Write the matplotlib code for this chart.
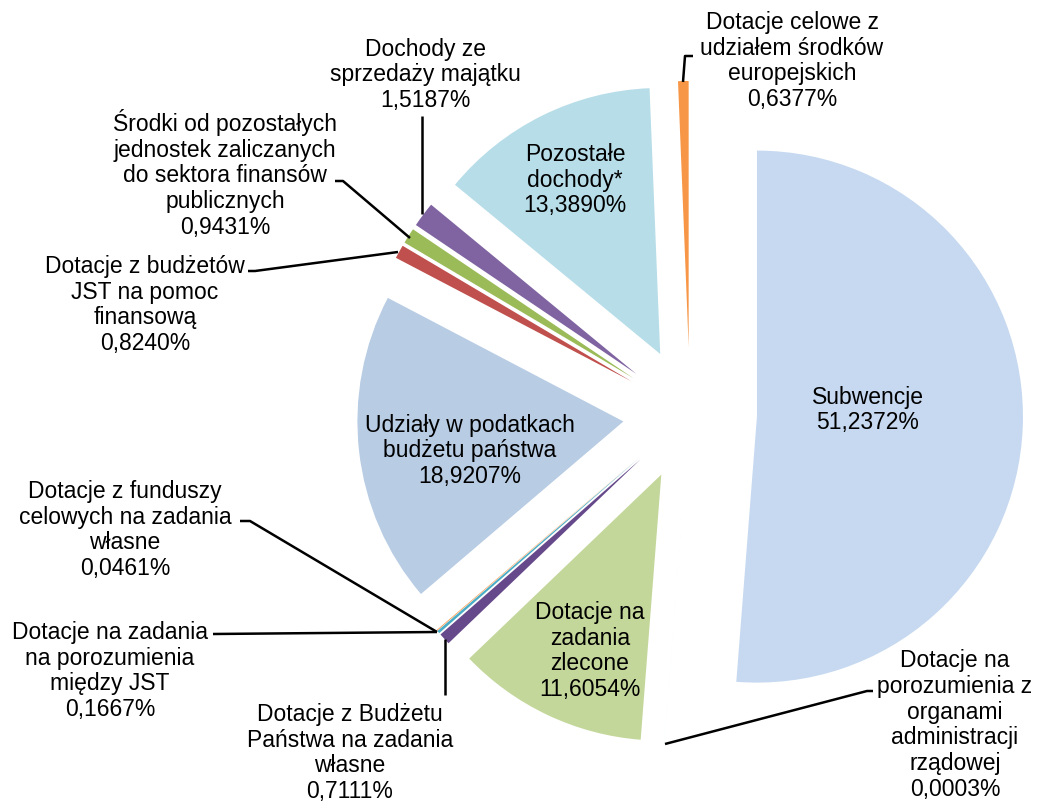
import matplotlib.pyplot as plt

# Struktura dochodów - udziały procentowe
labels = [
    "Subwencje",
    "Dotacje na\nporozumienia z\norganami\nadministracji\nrządowej",
    "Dotacje na\nzadania\nzlecone",
    "Dotacje z Budżetu\nPaństwa na zadania\nwłasne",
    "Dotacje na zadania\nna porozumienia\nmiędzy JST",
    "Dotacje z funduszy\ncelowych na zadania\nwłasne",
    "Udziały w podatkach\nbudżetu państwa",
    "Dotacje z budżetów\nJST na pomoc\nfinansową",
    "Środki od pozostałych\njednostek zaliczanych\ndo sektora finansów\npublicznych",
    "Dochody ze\nsprzedaży majątku",
    "Pozostałe\ndochody*",
    "Dotacje celowe z\nudziałem środków\neuropejskich",
]
values = [51.2372, 0.0003, 11.6054, 0.7111, 0.1667, 0.0461,
          18.9207, 0.8240, 0.9431, 1.5187, 13.3890, 0.6377]
colors = ["#c6d9f0", "#4f81bd", "#c4d79b", "#66498a", "#4bacc6", "#f79646",
          "#b8cce4", "#c0504d", "#9bbb59", "#8064a2", "#b7dde8", "#f79646"]

W, H = 1040, 803
fig = plt.figure(figsize=(W / 100, H / 100), dpi=100)
ax = fig.add_axes([0, 0, 1, 1])

# pixel-like coordinates, y going down -> start at -90 and go counterclockwise
# in data space so that it reads clockwise from 12 o'clock on screen
ax.pie(values, colors=colors, startangle=-90, counterclock=True,
       center=(690, 415), radius=266, explode=[67] * len(values),
       wedgeprops=dict(linewidth=0))
ax.set_xlim(0, W)
ax.set_ylim(H, 0)
ax.set_aspect('equal')
ax.axis('off')

plt.rcParams['font.family'] = ['Liberation Sans', 'DejaVu Sans']
fs = 16.5

def fmt(v):
    return f"{v:.4f}".replace(".", ",") + "%"

# label anchor (centre of text block) per slice
label_pos = [
    (868, 410), (955, 725), (590, 651), (350, 753), (110, 671), (125, 530),
    (470, 451), (145, 305), (225, 174), (425, 75), (575, 180), (792, 61),
]
for lab, v, (x, y) in zip(labels, values, label_pos):
    ax.text(x, y, lab + "\n" + fmt(v), ha='center', va='center',
            fontsize=fs, linespacing=1.16, color='black')

# leader lines
leaders = [
    [(683, 83), (685, 57), (693, 57)],
    [(422, 117), (422, 215)],
    [(335, 182), (343, 182), (410, 239)],
    [(248, 272), (255, 272), (398, 253)],
    [(240, 522), (250, 522), (437, 633)],
    [(213, 635), (437, 633)],
    [(445, 640), (445, 696)],
    [(665, 745), (867, 692), (873, 692)],
]
for pts in leaders:
    xs, ys = zip(*pts)
    ax.plot(xs, ys, color='black', linewidth=1.8, solid_capstyle='butt')

fig.savefig("out.png", dpi=100)
